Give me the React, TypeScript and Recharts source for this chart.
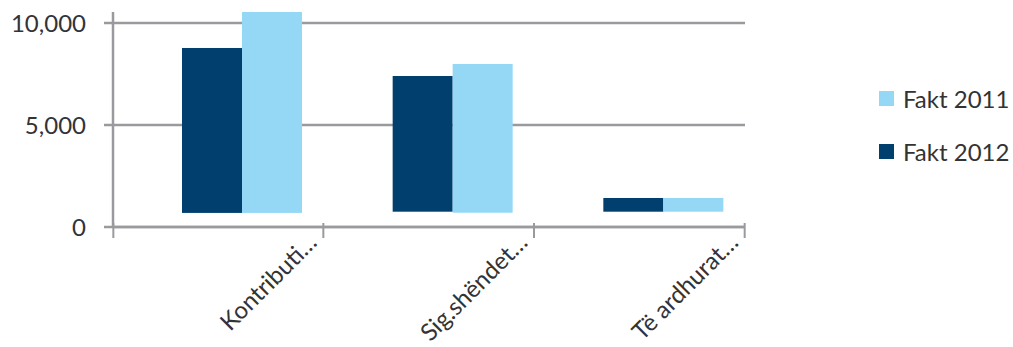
import { BarChart, Bar, XAxis, YAxis, CartesianGrid, Legend } from "recharts";

const categories = ["Kontributi…", "Sig.shëndet…", "Të ardhurat…"];
const fakt2012 = [8775, 7402, 1422];
const fakt2011 = [10539, 7990, 1422];
// the bars float a little above the axis in the original, so each bar starts here
const base2012 = [690, 750, 750];
const base2011 = [690, 700, 750];
const yTicks = [0, 5000, 10000];
const legendOrder = ["Fakt 2011", "Fakt 2012"];

const DARK = "#003f6e";
const LIGHT = "#94d8f6";
const GRID = "#9a9a9e";
const TEXT = "#333333";
const FONT = "Lato, 'Open Sans', sans-serif";

const BAND = 630 / categories.length;
// bar pairs sit right of the band centre in the original
const SHIFT = 24;

const data = categories.map((name, i) => ({
  name,
  f2012: [base2012[i], fakt2012[i]],
  f2011: [base2011[i], fakt2011[i]],
}));

function ShiftedBar(props: any) {
  const { x, y, width, height, fill } = props;
  return <rect x={x + SHIFT} y={y} width={width} height={height} fill={fill} />;
}

function CategoryTick(props: any) {
  const { x, y, payload, index } = props;
  const right = x + BAND / 2;
  const tx = right - 5;
  const ty = y + 17;
  return (
    <g>
      {index === 0 && (
        <line x1={x - BAND / 2} y1={y - 4} x2={x - BAND / 2} y2={y + 11} stroke={GRID} strokeWidth={2} />
      )}
      <line x1={right} y1={y - 4} x2={right} y2={y + 11} stroke={GRID} strokeWidth={2} />
      <text
        x={tx}
        y={ty}
        transform={`rotate(-45 ${tx} ${ty})`}
        textAnchor="end"
        fill={TEXT}
        fontSize={24}
        fontFamily={FONT}
      >
        {payload.value}
      </text>
    </g>
  );
}

function LegendBox(props: any) {
  const items = (props.payload || [])
    .slice()
    .sort((a: any, b: any) => legendOrder.indexOf(a.value) - legendOrder.indexOf(b.value));
  return (
    <div style={{ fontFamily: FONT, fontSize: 24, color: TEXT }}>
      {items.map((item: any) => (
        <div key={item.value} style={{ display: "flex", alignItems: "center", height: 53 }}>
          <span style={{ width: 15, height: 15, background: item.color, marginRight: 9, display: "inline-block" }} />
          <span>{item.value}</span>
        </div>
      ))}
    </div>
  );
}

export default function App() {
  return (
    <div style={{ position: "absolute", left: 0, top: 0, width: 1013, height: 347, background: "#fff" }}>
      <BarChart
        width={1013}
        height={347}
        data={data}
        margin={{ top: 12, right: 268, bottom: 0, left: 0 }}
        barGap={0}
        barSize={60}
      >
        <CartesianGrid
          horizontal
          vertical={false}
          horizontalValues={yTicks}
          stroke={GRID}
          strokeWidth={2.5}
        />
        <XAxis
          dataKey="name"
          height={120}
          axisLine={{ stroke: GRID, strokeWidth: 2.5 }}
          tickLine={false}
          tickSize={0}
          tickMargin={0}
          interval={0}
          tick={<CategoryTick />}
        />
        <YAxis
          width={113}
          ticks={yTicks}
          domain={[0, "dataMax"]}
          tickFormatter={(v: number) => v.toLocaleString("en-US")}
          axisLine={{ stroke: GRID, strokeWidth: 2.5 }}
          tickLine={{ stroke: GRID, strokeWidth: 2.5 }}
          tickSize={9}
          tickMargin={18}
          tick={{ fill: TEXT, fontSize: 24, fontFamily: FONT }}
        />
        <Legend
          layout="horizontal"
          verticalAlign="middle"
          align="center"
          content={<LegendBox />}
          wrapperStyle={{ position: "absolute", left: 879, top: 72, width: 140 }}
        />
        <Bar dataKey="f2012" name="Fakt 2012" fill={DARK} shape={<ShiftedBar />} isAnimationActive={false} />
        <Bar dataKey="f2011" name="Fakt 2011" fill={LIGHT} shape={<ShiftedBar />} isAnimationActive={false} />
      </BarChart>
    </div>
  );
}
